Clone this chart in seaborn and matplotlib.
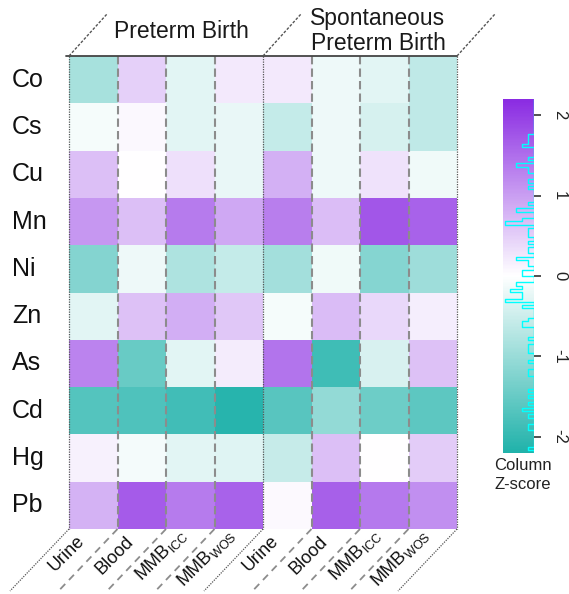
import numpy as np
import pandas as pd
import matplotlib
matplotlib.use("Agg")
import matplotlib.pyplot as plt
import seaborn as sns
from matplotlib.colors import LinearSegmentedColormap
from matplotlib.lines import Line2D
from matplotlib.transforms import ScaledTranslation

# ---- data: column z-scores of metal associations ----
elements = ["Co", "Cs", "Cu", "Mn", "Ni", "Zn", "As", "Cd", "Hg", "Pb"]
outcome_groups = ["Preterm Birth", "Spontaneous\nPreterm Birth"]
matrix_labels = ["Urine", "Blood", r"MMB$_{\mathregular{ICC}}$", r"MMB$_{\mathregular{WOS}}$"]

ptb_urine = [-0.86, -0.09, 0.66, 1.08, -1.22, -0.29, 1.28, -1.68, 0.15, 0.80]
ptb_blood = [0.49, 0.07, 0.00, 0.67, -0.17, 0.65, -1.49, -1.73, -0.12, 1.69]
ptb_icc = [-0.29, -0.29, 0.32, 1.37, -0.80, 0.83, -0.28, -1.87, -0.28, 1.37]
ptb_wos = [0.23, -0.21, -0.21, 0.91, -0.57, 0.57, 0.20, -2.13, -0.32, 1.62]
sptb_urine = [0.23, -0.57, 0.82, 1.33, -0.91, -0.10, 1.44, -1.65, -0.56, 0.06]
sptb_blood = [-0.17, -0.17, -0.17, 0.68, -0.15, 0.69, -1.89, -1.05, 0.66, 1.64]
sptb_icc = [-0.29, -0.40, 0.30, 1.74, -1.20, 0.40, -0.38, -1.43, 0.00, 1.38]
sptb_wos = [-0.63, -0.63, -0.15, 1.62, -0.96, 0.18, 0.65, -1.59, 0.53, 1.16]

key_ticks = [-2, -1, 0, 1, 2]
key_limits = (-2.2, 2.2)

columns = [ptb_urine, ptb_blood, ptb_icc, ptb_wos,
           sptb_urine, sptb_blood, sptb_icc, sptb_wos]
col_labels = matrix_labels * len(outcome_groups)
col_names = [f"{g.split()[0]}_{i}" for g in outcome_groups for i in range(4)]
df = pd.DataFrame(np.array(columns).T, index=elements, columns=col_names)

# ---- style ----
sns.set_theme(style="white")
plt.rcParams["font.family"] = ["Liberation Sans", "DejaVu Sans"]
plt.rcParams["mathtext.fontset"] = "custom"
plt.rcParams["mathtext.rm"] = "Liberation Sans"
plt.rcParams["mathtext.it"] = "Liberation Sans"

cmap = LinearSegmentedColormap.from_list("teal_purple", ["#20B2AA", "#FFFFFF", "#8A2BE2"])

W, H = 569, 594
fig = plt.figure(figsize=(W / 100, H / 100), dpi=100)


def fx(px):
    return px / W


def fy(py):
    return 1 - py / H


def fig_line(xa, ya, xb, yb, **kw):
    fig.add_artist(Line2D([fx(xa), fx(xb)], [fy(ya), fy(yb)],
                          transform=fig.transFigure, **kw))


x0, x1, y0, y1 = 69, 457, 56, 529
ax = fig.add_axes([fx(x0), fy(y1), (x1 - x0) / W, (y1 - y0) / H])
cax = fig.add_axes([fx(503), fy(453), (534 - 503) / W, (453 - 99) / H])

sns.heatmap(df, cmap=cmap, vmin=key_limits[0], vmax=key_limits[1], ax=ax, cbar_ax=cax,
            xticklabels=False, yticklabels=elements)

# row labels, left aligned at the figure margin
ax.tick_params(axis="y", length=0, pad=41)
for t in ax.get_yticklabels():
    t.set_rotation(0)
    t.set_ha("left")
    t.set_fontsize(18)
    t.set_color("#111111")

# column labels, slanted between the guide lines
for j, lab in enumerate(col_labels):
    if "$" in lab:
        dx, dy = -3, 6
    else:
        dx, dy = -8, 13
    off = ScaledTranslation(dx / 100, -dy / 100, fig.dpi_scale_trans)
    ax.text(j + 0.5, len(elements), lab, transform=ax.transData + off,
            rotation=45, rotation_mode="anchor", ha="right", va="baseline",
            fontsize=13, color="#111111", clip_on=False)

# boundaries between the measurement columns
dash = dict(color="#8c8c8c", lw=1.5, linestyle=(0, (4, 2)))
dot = dict(color="#555555", lw=0.9, linestyle=(0, (1, 1)))
for xb in range(9):
    style = dot if xb % 4 == 0 else dash
    ax.plot([xb, xb], [0, 10], clip_on=False, **style)
ax.plot([-0.06, 8], [0, 0], color="#444444", lw=1.3, clip_on=False)

# slanted guide lines above and below the grid
col_w = (x1 - x0) / 8
for i in range(9):
    xb = x0 + i * col_w
    if i % 4 == 0:
        fig_line(xb, y0, xb + 38, y0 - 42, color="#555555", lw=1.0, linestyle=(0, (2, 1.2)))
        fig_line(xb, y1, xb - 59, y1 + 62, **dot)
    else:
        fig_line(xb, y1, xb - 59, y1 + 62, color="#8c8c8c", lw=1.3, linestyle=(0, (4, 3)))

# outcome headers
fig.text(fx(181), fy(31), outcome_groups[0], ha="center", va="center",
         fontsize=16.5, color="#1a1a1a")
fig.text(fx(378), fy(31), outcome_groups[1], ha="center", va="center",
         fontsize=16.5, color="#1a1a1a", linespacing=1.15)

# colour key
cbar = ax.collections[0].colorbar
cbar.outline.set_visible(False)
cbar.set_ticks(key_ticks)
cbar.set_ticklabels([str(v) for v in key_ticks])
cax.tick_params(axis="y", length=5, width=1.2, color="#333333", pad=8,
                labelsize=12, labelcolor="#222222", right=True)
for t in cax.get_yticklabels():
    t.set_rotation(-90)
    t.set_va("center")

# density histogram of all cell values drawn over the key
vals = df.values.ravel()
edges = np.linspace(key_limits[0], key_limits[1], 111)
counts, _ = np.histogram(vals, bins=edges)
hx = 1 - counts / counts.max() * 0.95
xs, ys = [], []
for i, c in enumerate(hx):
    xs += [c, c]
    ys += [edges[i], edges[i + 1]]
cax.plot(xs, ys, color="#00FFFF", lw=1.0)
cax.set_xlim(0, 1)
cax.set_ylim(*key_limits)

fig.text(fx(523), fy(475), "Column\nZ-score", ha="center", va="center",
         fontsize=12, color="#222222", linespacing=1.35)

fig.savefig("out.png", dpi=100)
